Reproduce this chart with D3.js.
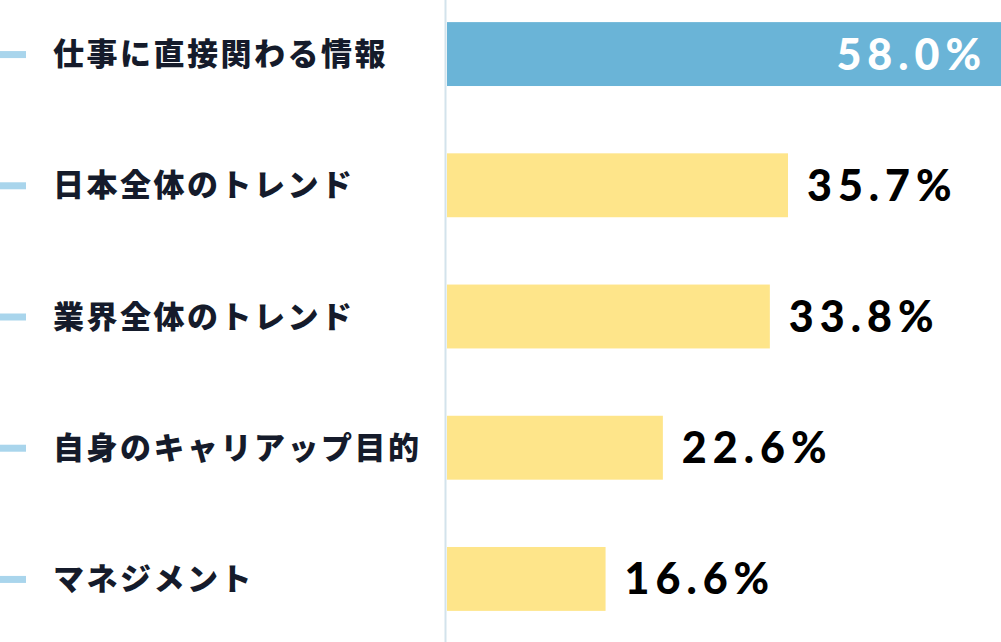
<!DOCTYPE html>
<html>
<head>
<meta charset="utf-8">
<script src="https://cdn.jsdelivr.net/npm/d3@7"></script>
<style>
  body { margin: 0; background: #fff; }
  svg { display: block; }
</style>
</head>
<body>
<div id="chart"></div>
<script>
// data
const categories = ["仕事に直接関わる情報", "日本全体のトレンド", "業界全体のトレンド", "自身のキャリアップ目的", "マネジメント"];
const values = [58.0, 35.7, 33.8, 22.6, 16.6];
const highlight = [true, false, false, false, false];

const W = 1001, H = 642;
const axisX = 446;

const svg = d3.select("#chart").append("svg")
    .attr("width", W).attr("height", H);

// x scale : 0% at the axis line
const x = d3.scaleLinear().domain([0, 58]).range([axisX + 1, 1001]);

// y band for each row
const y = d3.scaleBand().domain(categories).range([-12, 645]).paddingInner(0.513).paddingOuter(0.26);

// vertical axis line
svg.append("line")
    .attr("x1", axisX - 0.5).attr("x2", axisX - 0.5)
    .attr("y1", 0).attr("y2", H)
    .attr("stroke", "#d3e3ec").attr("stroke-width", 2);

const rows = svg.selectAll("g.row")
    .data(categories)
    .enter().append("g")
    .attr("class", "row");

// little blue dash before each label
rows.append("rect")
    .attr("x", 0).attr("width", 26)
    .attr("y", d => y(d) + y.bandwidth() / 2 - 3)
    .attr("height", 7)
    .attr("fill", "#a9d5ec");

// category labels
rows.append("text")
    .attr("x", 53)
    .attr("y", d => y(d) + y.bandwidth() / 2)
    .attr("dy", "0.36em")
    .attr("font-family", "'Noto Sans CJK JP', sans-serif")
    .attr("font-weight", 900)
    .attr("font-size", 31)
    .attr("letter-spacing", 2.5)
    .attr("fill", "#151b2b")
    .text(d => d);

// bars
rows.append("rect")
    .attr("x", x(0))
    .attr("y", d => y(d))
    .attr("height", y.bandwidth())
    .attr("width", (d, i) => x(values[i]) - x(0))
    .attr("fill", (d, i) => highlight[i] ? "#6ab4d7" : "#fee58a");

// value labels : inside the blue bar, outside the others
rows.append("text")
    .attr("x", (d, i) => highlight[i] ? x(values[i]) - 14 : x(values[i]) + 19)
    .attr("y", d => y(d) + y.bandwidth() / 2)
    .attr("dy", "0.36em")
    .attr("text-anchor", (d, i) => highlight[i] ? "end" : "start")
    .attr("font-family", "Lato, sans-serif")
    .attr("font-weight", 900)
    .attr("font-size", 43)
    .attr("letter-spacing", 6)
    .attr("fill", (d, i) => highlight[i] ? "#ffffff" : "#000000")
    .text((d, i) => values[i].toFixed(1) + "%");
</script>
</body>
</html>
